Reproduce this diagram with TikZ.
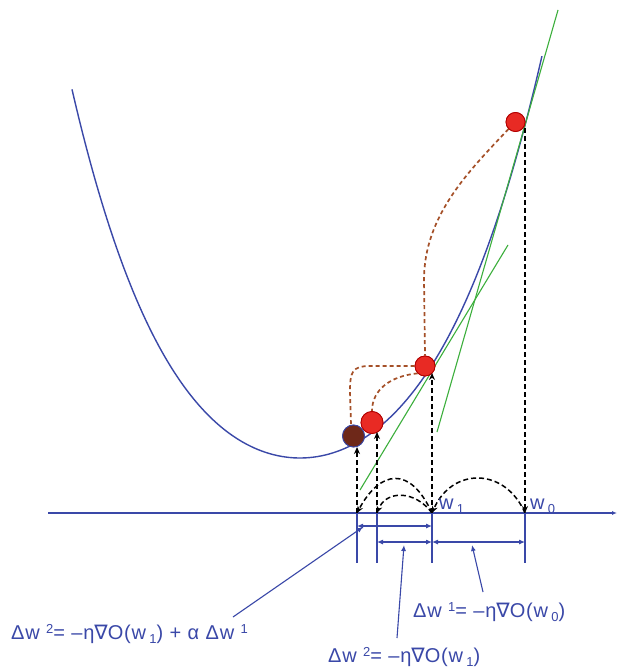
\documentclass[tikz,border=0pt]{standalone}
\usepackage{fontspec}
\setmainfont{Liberation Sans}
\newfontfamily\lblfont[LetterSpace=4]{Liberation Sans}
\newfontfamily\dvs{DejaVu Sans}
\usetikzlibrary{arrows.meta}
\definecolor{ablue}{RGB}{58,72,168}
\definecolor{agreen}{RGB}{60,175,60}
\definecolor{abrown}{RGB}{165,80,40}
\definecolor{ared}{RGB}{232,42,36}
\definecolor{adark}{RGB}{110,40,25}
\newcommand{\sps}[1]{\raisebox{0.6ex}{\fontsize{13}{14}\selectfont #1}}
\newcommand{\sbs}[1]{\raisebox{-0.35ex}{\fontsize{13}{14}\selectfont #1}}
\newcommand{\nab}{{\dvs ∇}}
\begin{document}
\begin{tikzpicture}[x=1pt,y=-1pt,
  curvestyle/.style={ablue, line width=1.4pt},
  tang/.style={agreen, line width=1.1pt},
  vdash/.style={black, dash pattern=on 5pt off 3pt, line width=1.5pt, -{Stealth[length=7pt,width=6pt]}},
  bdash/.style={abrown, dash pattern=on 4pt off 3pt, line width=1.7pt},
  ball/.style={circle, fill=ared, draw=red!70!black, line width=0.8pt, inner sep=0pt, minimum size=#1},
  dimline/.style={ablue, line width=1.1pt},
  dimarrow/.style={ablue, line width=1.1pt, {Latex[length=6pt,width=5pt]}-{Latex[length=6pt,width=5pt]}},
  lead/.style={ablue, line width=1.1pt, -{Latex[length=6pt,width=5pt]}},
  lbl/.style={text=ablue, font=\lblfont\fontsize{20}{24}\selectfont, inner sep=0pt}]
\fill[white] (0,0) rectangle (617,671);
\useasboundingbox (0,0) rectangle (617,671);
% axis
\coordinate (ax0) at (48,513);
\coordinate (ax1) at (617,513);
\draw[ablue, line width=1.3pt, -{Latex[length=5pt,width=4pt]}] (ax0) -- (ax1);
% curve
\draw[curvestyle] plot[domain=-2.28:2.42, samples=120, smooth]
  ({300+100*\x}, {458 - 47*\x*\x - ((\x<0)*4.6 + (\x>=0)*3.7)*\x*\x*\x*\x});
% tangents
\coordinate (g0a) at (437,432);
\coordinate (g0b) at (558,10);
\coordinate (g1a) at (360,490);
\coordinate (g1b) at (508,245);
\draw[tang] (g0a) -- (g0b);
\draw[tang] (g1a) -- (g1b);
% axis points
\coordinate (a0) at (525,513);
\coordinate (a1) at (432,513);
\coordinate (a2) at (377,513);
\coordinate (a3) at (357,513);
\coordinate (t0) at (525,128);
\coordinate (t1) at (432,373);
\coordinate (t2) at (377,432);
\coordinate (t3) at (357,447);
% balls (placed first so the connectors can use their names)
\node[ball=19pt] (b0) at (515.5,122) {};
\node[ball=20pt] (b1) at (425,366) {};
\node[ball=22pt] (b2) at (372,422.5) {};
\node[ball=22pt, fill=adark, draw=ablue] (b3) at (353.5,436) {};
% brown dashed paths
\draw[bdash] (b0.south west) .. controls (470,170) and (424,215) .. (424,280) -- (b1.north);
\draw[bdash] (b1.south west) .. controls (390,376) and (372,390) .. (b2.north);
\draw[bdash] (b1.west) -- (370,366) .. controls (352,366) and (350,372) .. (350,392) -- (351,425);
% redraw balls on top of the connectors
\node[ball=19pt] at (b0) {};
\node[ball=20pt] at (b1) {};
\node[ball=22pt] at (b2) {};
\node[ball=22pt, fill=adark, draw=ablue] at (b3) {};
% vertical dashed arrows
\draw[vdash] (a3) -- (t3);
\draw[vdash] (a2) -- (t2);
\draw[vdash] (a1) -- (t1);
\draw[vdash] (t0) -- (a0);
% jump arcs
\draw[vdash] (a0) .. controls (505,467) and (452,467) .. (a1);
\draw[vdash] (a1) .. controls (415,490) and (386,490) .. (a2);
\draw[vdash] (a1) .. controls (410,465) and (380,470) .. (a3);
% axis labels
\node[lbl, anchor=west] (lw1) at (439,506) {w\,\sbs{1}};
\node[lbl, anchor=west] (lw0) at (530,506) {w\,\sbs{0}};
% dimension lines
\coordinate (e0) at (525,563);
\coordinate (e1) at (432,563);
\coordinate (e2) at (377,563);
\coordinate (e3) at (357,563);
\draw[dimline] (a0) -- (e0);
\draw[dimline] (a1) -- (e1);
\draw[dimline] (a2) -- (e2);
\draw[dimline] (a3) -- (e3);
\coordinate (r1a) at (357,526);
\coordinate (r1b) at (432,526);
\coordinate (r2a) at (377,542);
\coordinate (r2b) at (432,542);
\coordinate (r2c) at (525,542);
\draw[dimarrow] (r1a) -- (r1b);
\draw[dimarrow] (r2a) -- (r2b);
\draw[dimarrow] (r2b) -- (r2c);
% labels
\node[lbl, anchor=west] (L1) at (11,634) {Δw \sps{2}= –η\nab O(w\,\sbs{1}) + α Δw \sps{1}};
\node[lbl, anchor=west] (L3) at (413,612) {Δw \sps{1}= –η\nab O(w\,\sbs{0})};
\node[lbl, anchor=west] (L2) at (328,657) {Δw \sps{2}= –η\nab O(w\,\sbs{1})};
% leaders
\coordinate (h1) at (233,617);
\coordinate (k1) at (363,527);
\coordinate (h2) at (397,638);
\coordinate (k2) at (404,545);
\coordinate (h3) at (483,592);
\coordinate (k3) at (472,545);
\draw[lead] (h1) -- (k1);
\draw[lead] (h2) -- (k2);
\draw[lead] (h3) -- (k3);
\end{tikzpicture}
\end{document}
